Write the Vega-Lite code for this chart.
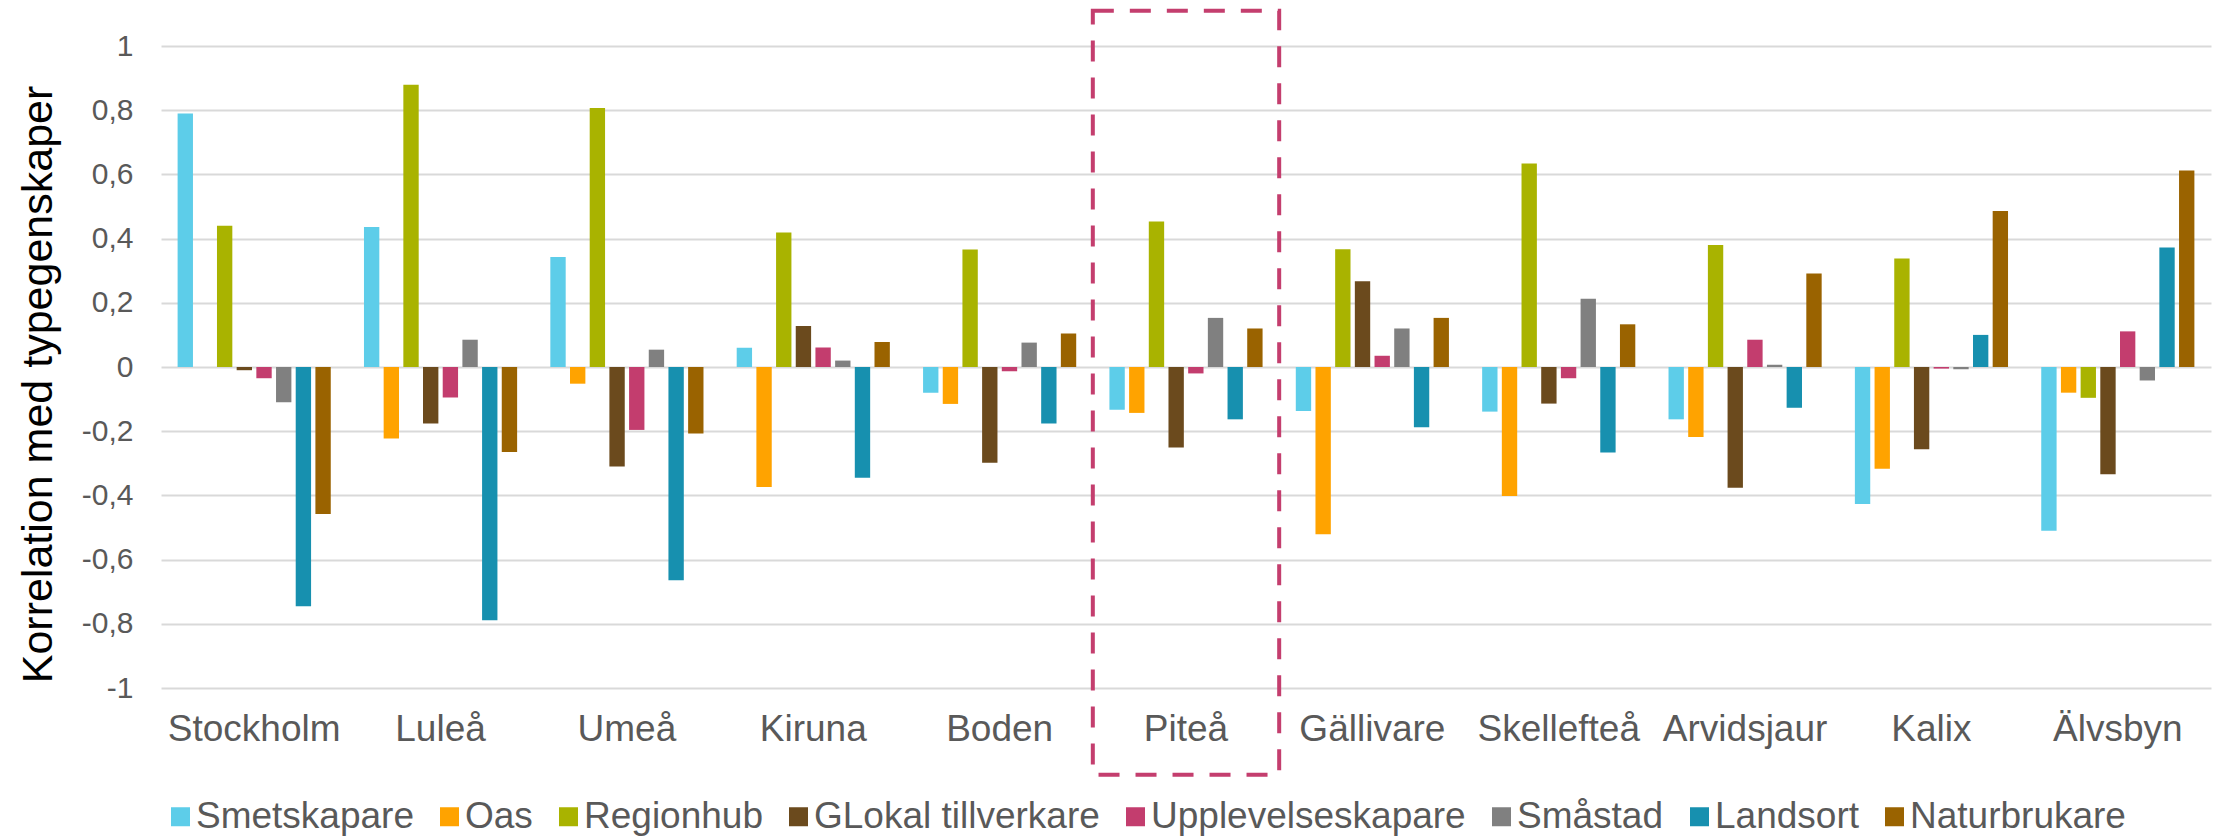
{
  "$schema": "https://vega.github.io/schema/vega-lite/v6.json",
  "width": 2050,
  "height": 642,
  "autosize": {"type": "none"},
  "padding": {"left": 161, "top": 46, "right": 3, "bottom": 149},
  "background": "white",
  "config": {
    "view": {"stroke": null},
    "font": "Liberation Sans"
  },
  "datasets": {
    "korr": [
      {"stad": "Stockholm", "typ": "Smetskapare", "r": 0.79},
      {"stad": "Stockholm", "typ": "Oas", "r": 0},
      {"stad": "Stockholm", "typ": "Regionhub", "r": 0.44},
      {"stad": "Stockholm", "typ": "GLokal tillverkare", "r": -0.01},
      {"stad": "Stockholm", "typ": "Upplevelseskapare", "r": -0.035},
      {"stad": "Stockholm", "typ": "Småstad", "r": -0.11},
      {"stad": "Stockholm", "typ": "Landsort", "r": -0.745},
      {"stad": "Stockholm", "typ": "Naturbrukare", "r": -0.458},
      {"stad": "Luleå", "typ": "Smetskapare", "r": 0.436},
      {"stad": "Luleå", "typ": "Oas", "r": -0.223},
      {"stad": "Luleå", "typ": "Regionhub", "r": 0.879},
      {"stad": "Luleå", "typ": "GLokal tillverkare", "r": -0.176},
      {"stad": "Luleå", "typ": "Upplevelseskapare", "r": -0.095},
      {"stad": "Luleå", "typ": "Småstad", "r": 0.085},
      {"stad": "Luleå", "typ": "Landsort", "r": -0.789},
      {"stad": "Luleå", "typ": "Naturbrukare", "r": -0.265},
      {"stad": "Umeå", "typ": "Smetskapare", "r": 0.343},
      {"stad": "Umeå", "typ": "Oas", "r": -0.052},
      {"stad": "Umeå", "typ": "Regionhub", "r": 0.807},
      {"stad": "Umeå", "typ": "GLokal tillverkare", "r": -0.31},
      {"stad": "Umeå", "typ": "Upplevelseskapare", "r": -0.196},
      {"stad": "Umeå", "typ": "Småstad", "r": 0.054},
      {"stad": "Umeå", "typ": "Landsort", "r": -0.664},
      {"stad": "Umeå", "typ": "Naturbrukare", "r": -0.207},
      {"stad": "Kiruna", "typ": "Smetskapare", "r": 0.06},
      {"stad": "Kiruna", "typ": "Oas", "r": -0.374},
      {"stad": "Kiruna", "typ": "Regionhub", "r": 0.419},
      {"stad": "Kiruna", "typ": "GLokal tillverkare", "r": 0.128},
      {"stad": "Kiruna", "typ": "Upplevelseskapare", "r": 0.061},
      {"stad": "Kiruna", "typ": "Småstad", "r": 0.02},
      {"stad": "Kiruna", "typ": "Landsort", "r": -0.345},
      {"stad": "Kiruna", "typ": "Naturbrukare", "r": 0.078},
      {"stad": "Boden", "typ": "Smetskapare", "r": -0.08},
      {"stad": "Boden", "typ": "Oas", "r": -0.115},
      {"stad": "Boden", "typ": "Regionhub", "r": 0.366},
      {"stad": "Boden", "typ": "GLokal tillverkare", "r": -0.298},
      {"stad": "Boden", "typ": "Upplevelseskapare", "r": -0.013},
      {"stad": "Boden", "typ": "Småstad", "r": 0.076},
      {"stad": "Boden", "typ": "Landsort", "r": -0.176},
      {"stad": "Boden", "typ": "Naturbrukare", "r": 0.104},
      {"stad": "Piteå", "typ": "Smetskapare", "r": -0.133},
      {"stad": "Piteå", "typ": "Oas", "r": -0.143},
      {"stad": "Piteå", "typ": "Regionhub", "r": 0.453},
      {"stad": "Piteå", "typ": "GLokal tillverkare", "r": -0.251},
      {"stad": "Piteå", "typ": "Upplevelseskapare", "r": -0.02},
      {"stad": "Piteå", "typ": "Småstad", "r": 0.153},
      {"stad": "Piteå", "typ": "Landsort", "r": -0.163},
      {"stad": "Piteå", "typ": "Naturbrukare", "r": 0.12},
      {"stad": "Gällivare", "typ": "Smetskapare", "r": -0.137},
      {"stad": "Gällivare", "typ": "Oas", "r": -0.521},
      {"stad": "Gällivare", "typ": "Regionhub", "r": 0.367},
      {"stad": "Gällivare", "typ": "GLokal tillverkare", "r": 0.267},
      {"stad": "Gällivare", "typ": "Upplevelseskapare", "r": 0.035},
      {"stad": "Gällivare", "typ": "Småstad", "r": 0.12},
      {"stad": "Gällivare", "typ": "Landsort", "r": -0.188},
      {"stad": "Gällivare", "typ": "Naturbrukare", "r": 0.153},
      {"stad": "Skellefteå", "typ": "Smetskapare", "r": -0.139},
      {"stad": "Skellefteå", "typ": "Oas", "r": -0.402},
      {"stad": "Skellefteå", "typ": "Regionhub", "r": 0.634},
      {"stad": "Skellefteå", "typ": "GLokal tillverkare", "r": -0.114},
      {"stad": "Skellefteå", "typ": "Upplevelseskapare", "r": -0.035},
      {"stad": "Skellefteå", "typ": "Småstad", "r": 0.213},
      {"stad": "Skellefteå", "typ": "Landsort", "r": -0.266},
      {"stad": "Skellefteå", "typ": "Naturbrukare", "r": 0.133},
      {"stad": "Arvidsjaur", "typ": "Smetskapare", "r": -0.163},
      {"stad": "Arvidsjaur", "typ": "Oas", "r": -0.218},
      {"stad": "Arvidsjaur", "typ": "Regionhub", "r": 0.38},
      {"stad": "Arvidsjaur", "typ": "GLokal tillverkare", "r": -0.376},
      {"stad": "Arvidsjaur", "typ": "Upplevelseskapare", "r": 0.085},
      {"stad": "Arvidsjaur", "typ": "Småstad", "r": 0.007},
      {"stad": "Arvidsjaur", "typ": "Landsort", "r": -0.127},
      {"stad": "Arvidsjaur", "typ": "Naturbrukare", "r": 0.291},
      {"stad": "Kalix", "typ": "Smetskapare", "r": -0.427},
      {"stad": "Kalix", "typ": "Oas", "r": -0.317},
      {"stad": "Kalix", "typ": "Regionhub", "r": 0.338},
      {"stad": "Kalix", "typ": "GLokal tillverkare", "r": -0.256},
      {"stad": "Kalix", "typ": "Upplevelseskapare", "r": -0.005},
      {"stad": "Kalix", "typ": "Småstad", "r": -0.007},
      {"stad": "Kalix", "typ": "Landsort", "r": 0.1},
      {"stad": "Kalix", "typ": "Naturbrukare", "r": 0.486},
      {"stad": "Älvsbyn", "typ": "Smetskapare", "r": -0.51},
      {"stad": "Älvsbyn", "typ": "Oas", "r": -0.08},
      {"stad": "Älvsbyn", "typ": "Regionhub", "r": -0.096},
      {"stad": "Älvsbyn", "typ": "GLokal tillverkare", "r": -0.334},
      {"stad": "Älvsbyn", "typ": "Upplevelseskapare", "r": 0.111},
      {"stad": "Älvsbyn", "typ": "Småstad", "r": -0.042},
      {"stad": "Älvsbyn", "typ": "Landsort", "r": 0.372},
      {"stad": "Älvsbyn", "typ": "Naturbrukare", "r": 0.612}
    ],
    "markering": [
      {"stad": "Piteå"}
    ]
  },
  "layer": [
    {
      "data": {"name": "korr"},
      "mark": {"type": "bar"},
      "encoding": {
        "x": {
          "field": "stad",
          "type": "nominal",
          "sort": ["Stockholm", "Luleå", "Umeå", "Kiruna", "Boden", "Piteå", "Gällivare", "Skellefteå", "Arvidsjaur", "Kalix", "Älvsbyn"],
          "scale": {"paddingInner": 0.155, "paddingOuter": 0.0775},
          "axis": {
            "title": null,
            "labelAngle": 0,
            "labelFontSize": 37,
            "labelColor": "#595959",
            "labelPadding": 23,
            "ticks": false,
            "domain": false,
            "grid": false
          }
        },
        "xOffset": {
          "field": "typ",
          "type": "nominal",
          "sort": ["Smetskapare", "Oas", "Regionhub", "GLokal tillverkare", "Upplevelseskapare", "Småstad", "Landsort", "Naturbrukare"],
          "scale": {"paddingInner": 0.22, "paddingOuter": 0.11}
        },
        "y": {
          "field": "r",
          "type": "quantitative",
          "scale": {"domain": [-1, 1], "nice": false},
          "axis": {
            "title": "Korrelation med typegenskaper",
            "titleFontSize": 43,
            "titleFontWeight": "normal",
            "titleColor": "#000000",
            "titlePadding": 21,
            "titleY": 338,
            "values": [-1, -0.8, -0.6, -0.4, -0.2, 0, 0.2, 0.4, 0.6, 0.8, 1],
            "labelExpr": "replace(toString(datum.value), '.', ',')",
            "labelFontSize": 30,
            "labelColor": "#595959",
            "labelPadding": 28,
            "ticks": false,
            "domain": false,
            "grid": true,
            "gridColor": "#D9D9D9",
            "gridWidth": 2
          }
        },
        "color": {
          "field": "typ",
          "type": "nominal",
          "scale": {
            "domain": ["Smetskapare", "Oas", "Regionhub", "GLokal tillverkare", "Upplevelseskapare", "Småstad", "Landsort", "Naturbrukare"],
            "range": ["#5DCDE9", "#FFA300", "#A9B300", "#6B4A1D", "#C33D6E", "#808080", "#1790AF", "#9A6300"]
          },
          "legend": {
            "title": null,
            "orient": "none",
            "legendX": 1,
            "legendY": 752,
            "direction": "horizontal",
            "symbolType": "square",
            "symbolSize": 361,
            "symbolStrokeWidth": 0,
            "labelFontSize": 37,
            "labelColor": "#595959",
            "labelOffset": -3,
            "columnPadding": 17,
            "labelLimit": 0
          }
        }
      }
    },
    {
      "data": {"name": "markering"},
      "mark": {
        "type": "rect",
        "fill": "white",
        "fillOpacity": 0,
        "stroke": "#C43E6E",
        "strokeWidth": 4,
        "strokeDash": [21, 16]
      },
      "encoding": {
        "x": {
          "field": "stad",
          "type": "nominal",
          "scale": {
            "domain": ["Stockholm", "Luleå", "Umeå", "Kiruna", "Boden", "Piteå", "Gällivare", "Skellefteå", "Arvidsjaur", "Kalix", "Älvsbyn"],
            "paddingInner": 0,
            "paddingOuter": 0
          },
          "axis": null
        },
        "y": {"datum": 1.11},
        "y2": {"datum": -1.27}
      }
    }
  ],
  "resolve": {"scale": {"x": "independent"}}
}
